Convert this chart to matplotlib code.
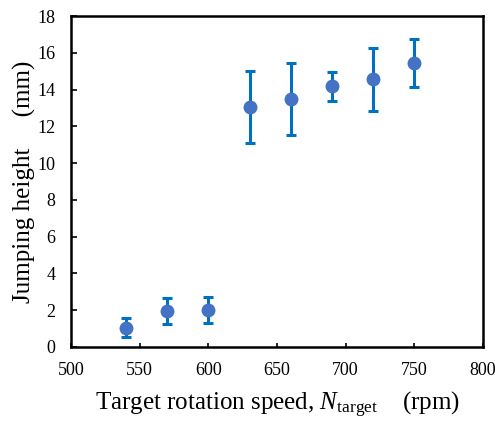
import numpy as np
import matplotlib
matplotlib.use("Agg")
import matplotlib.pyplot as plt

# data
speed = [540, 570, 600, 630, 660, 690, 720, 750]
height = [1.05, 1.96, 2.0, 13.06, 13.5, 14.18, 14.55, 15.45]
err = [0.5, 0.7, 0.72, 1.95, 1.95, 0.78, 1.7, 1.3]

plt.rcParams['font.family'] = ['Liberation Serif', 'DejaVu Serif']
plt.rcParams['mathtext.fontset'] = 'custom'
plt.rcParams['mathtext.rm'] = 'Liberation Serif'
plt.rcParams['mathtext.it'] = 'Liberation Serif:italic'

fig = plt.figure(figsize=(4.95, 4.23), dpi=100)
ax = fig.add_axes([0.1434, 0.1797, 0.8324, 0.7823])

ax.errorbar(speed, height, yerr=err, fmt='none', ecolor='#0070C0',
            elinewidth=2.2, capsize=3.5, capthick=2.2, zorder=2)
ax.plot(speed, height, 'o', color='#4472C4', markersize=9, zorder=3)

ax.set_xlim(500, 800)
ax.set_ylim(0, 18)
ax.set_xticks(np.arange(500, 801, 50))
ax.set_yticks(np.arange(0, 19, 2))
ax.tick_params(direction='in', width=1.2, labelsize=13)
ax.tick_params(axis='y', length=4, pad=11)
ax.tick_params(axis='x', length=3, pad=11)
for s in ax.spines.values():
    s.set_linewidth(1.8)

ax.set_xlabel(r'Target rotation speed, $N_{\mathrm{target}}$    (rpm)', fontsize=18, labelpad=8)
ax.set_ylabel('Jumping height     (mm)', fontsize=18, labelpad=1)

fig.savefig('out.png', dpi=100)
